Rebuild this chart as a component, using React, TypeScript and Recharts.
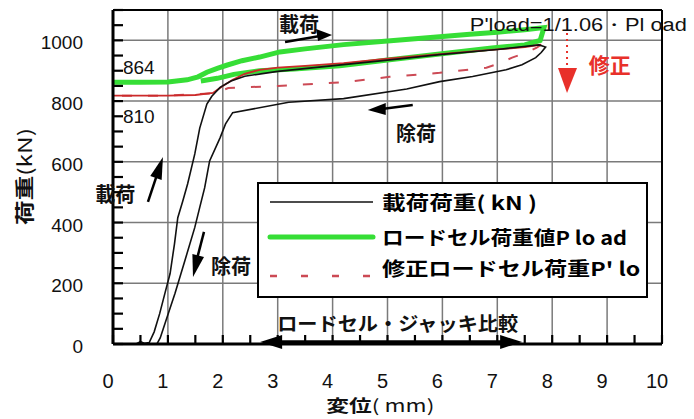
import React from 'react';
import { LineChart, Line, XAxis, YAxis, CartesianGrid, ReferenceDot, ReferenceLine, Legend } from 'recharts';

// ---- axis ticks ----
const xTicks = [0, 0.5, 1, 1.5, 2, 2.5, 3, 3.5, 4, 4.5, 5, 5.5, 6, 6.5, 7, 7.5, 8, 8.5, 9, 9.5, 10];
const yTicks = [0, 50, 100, 150, 200, 250, 300, 350, 400, 450, 500, 550, 600, 650, 700, 750, 800, 850, 900, 950, 1000, 1050, 1100];
const xLabels = [0, 1, 2, 3, 4, 5, 6, 7, 8, 9, 10];
const yLabels = [0, 200, 400, 600, 800, 1000];
const xGrid = [1, 2, 3, 4, 5, 6, 7, 8, 9];
const yGrid = [200, 400, 600, 800, 1000];

// ---- series: 載荷荷重 (kN) — loading then unloading loop ----
const jackDisp = [0.42, 0.5, 0.58, 0.66, 0.75, 0.85, 0.95, 1.04, 1.12, 1.18, 1.27, 1.36, 1.49, 1.58, 1.71, 1.8, 1.95, 2.15, 2.4, 3.0, 4.2, 5.0, 5.95, 7.0, 7.76, 7.88, 7.8, 7.7, 7.45, 7.16, 6.55, 5.95, 5.35, 4.2, 3.2, 2.18, 2.05, 1.95, 1.76, 1.67, 1.58, 1.49, 1.31, 1.13, 0.95, 0.86, 0.8];
const jackLoad = [0, 8, 2, 5, 40, 100, 170, 232, 330, 416, 470, 528, 626, 711, 790, 816, 845, 866, 882, 898, 920, 935, 953, 970, 985, 978, 960, 943, 920, 903, 881, 864, 840, 808, 796, 762, 725, 679, 603, 515, 450, 384, 275, 167, 69, 20, 0];

// ---- series: ロードセル荷重値 Pload ----
const cellDisp = [0, 0.5, 1.0, 1.35, 1.55, 1.71, 1.9, 2.07, 2.35, 2.67, 3.04, 3.5, 4.2, 5.0, 5.95, 6.5, 7.0, 7.5, 7.85, 7.78, 7.5, 6.9, 5.95, 5.0, 4.13, 3.3, 2.67, 2.2, 1.9, 1.6];
const cellLoad = [862, 862, 863, 870, 880, 895, 908, 918, 933, 945, 962, 972, 986, 998, 1012, 1020, 1027, 1035, 1042, 1000, 985, 975, 955, 935, 916, 906, 900, 888, 875, 866];

// ---- series: 修正ロードセル荷重 P'load (loading branch, solid) ----
const corrUpDisp = [0, 1.0, 1.5, 1.82, 2.0, 2.18, 2.4, 2.67, 3.0, 3.5, 4.2, 5.0, 5.95, 6.5, 7.0, 7.5, 7.8];
const corrUpLoad = [818, 818, 820, 827, 850, 870, 890, 903, 910, 916, 925, 940, 955, 963, 970, 978, 986];

// ---- series: 修正ロードセル荷重 P'load (unloading branch, dashed) ----
const corrDnDisp = [7.8, 7.71, 7.5, 7.27, 7.0, 6.8, 5.95, 5.04, 4.2, 3.0, 2.1, 1.85, 1.0, 0];
const corrDnLoad = [986, 975, 958, 943, 922, 910, 893, 880, 862, 850, 843, 826, 818, 818];

const legendLabels = ['載荷荷重( kN )', 'ロードセル荷重値P lo ad', "修正ロードセル荷重P' lo ad"];

const toPts = (xs: number[], ys: number[]) => xs.map((x, i) => ({ x, y: ys[i] }));
const jackData = toPts(jackDisp, jackLoad);
const cellData = toPts(cellDisp, cellLoad);
const corrUpData = toPts(corrUpDisp, corrUpLoad);
const corrDnData = toPts(corrDnDisp, corrDnLoad);

const NUM_FONT = '"Liberation Sans", Arial, Helvetica, sans-serif';
const JP_FONT = '"Noto Sans CJK JP", "Noto Sans", sans-serif';

const BLACK = '#111111';
const GREEN = '#36de36';
const RED = '#cc2a2a';
const RED_DASH = '#cc4a55';
const ANN_RED = '#e8302a';

const XTick = (props: any) => {
  const { x, y, payload } = props;
  const v = Number(payload.value);
  return (
    <g>
      <path d={`M${x},${y - 1}V${y - 9}`} stroke="#000" strokeWidth={2.2} fill="none" />
      {xLabels.includes(v) && (
        <text x={x - 5} y={y + 44} textAnchor="middle" fontSize={20} fontFamily={NUM_FONT} fill="#111">
          {v}
        </text>
      )}
    </g>
  );
};

const YTick = (props: any) => {
  const { x, y, payload } = props;
  const v = Number(payload.value);
  return (
    <g>
      <path d={`M${x + 1},${y}H${x + 10}`} stroke="#000" strokeWidth={2.2} fill="none" />
      {yLabels.includes(v) && (
        <text x={x - 30} y={y + 9} textAnchor="end" fontSize={19} fontFamily={NUM_FONT} fill="#111">
          {v}
        </text>
      )}
    </g>
  );
};

const LegendBox = () => (
  <svg width={391} height={116} style={{ display: 'block' }}>
    <rect x={1} y={1} width={389} height={114} fill="#fff" stroke="#000" strokeWidth={2} />
    <line x1={13} x2={116} y1={20} y2={20} stroke={BLACK} strokeWidth={1.5} />
    <text x={125} y={28} fontSize={19} fontWeight="bold" fontFamily={JP_FONT} textLength={155} lengthAdjust="spacingAndGlyphs">
      {legendLabels[0]}
    </text>
    <line x1={13} x2={116} y1={55} y2={55} stroke={GREEN} strokeWidth={5} strokeLinecap="round" />
    <text x={125} y={63} fontSize={19} fontWeight="bold" fontFamily={JP_FONT} textLength={245} lengthAdjust="spacingAndGlyphs">
      {legendLabels[1]}
    </text>
    <line x1={13} x2={116} y1={94} y2={94} stroke={RED_DASH} strokeWidth={2.5} strokeDasharray="7 24" />
    <text x={125} y={94} fontSize={19} fontWeight="bold" fontFamily={JP_FONT} textLength={292} lengthAdjust="spacingAndGlyphs">
      {legendLabels[2]}
    </text>
    <line x1={390} x2={390} y1={0} y2={116} stroke="#000" strokeWidth={2} />
  </svg>
);

const ann = (key: string, x: number, y: number, render: (cx: number, cy: number) => React.ReactElement) => (
  <ReferenceDot
    key={key}
    x={x}
    y={y}
    r={0}
    ifOverflow="visible"
    shape={(p: any) => render(p.cx, p.cy)}
  />
);

export default function App() {
  return (
    <div style={{ position: 'absolute', left: 0, top: 0, width: 694, height: 419, background: '#fff' }}>
      <LineChart width={694} height={419} margin={{ top: 10, right: 32, bottom: 0, left: 0 }}>
        <CartesianGrid
          horizontalValues={yGrid}
          verticalValues={xGrid}
          stroke="#7a7a7a"
          strokeWidth={1.5}
        />
        <ReferenceLine y={1100} stroke="#000" strokeWidth={2} ifOverflow="visible" />
        <ReferenceLine x={10} stroke="#000" strokeWidth={2} ifOverflow="visible" />
        <Line data={cellData} dataKey="y" name={legendLabels[1]} stroke={GREEN} strokeWidth={5} dot={false} isAnimationActive={false} />
        <Line data={corrDnData} dataKey="y" name={legendLabels[2]} stroke={RED_DASH} strokeWidth={2} strokeDasharray="10 16" dot={false} isAnimationActive={false} />
        <Line data={corrUpData} dataKey="y" name="corrUp" legendType="none" stroke={RED} strokeWidth={1.8} dot={false} isAnimationActive={false} />
        <Line data={jackData} dataKey="y" name={legendLabels[0]} stroke={BLACK} strokeWidth={1.6} dot={false} isAnimationActive={false} />
        <XAxis
          type="number"
          dataKey="x"
          domain={[0, 10]}
          ticks={xTicks}
          interval={0}
          allowDataOverflow
          height={75}
          tickSize={0}
          tickMargin={0}
          tickLine={false}
          axisLine={{ stroke: '#000', strokeWidth: 3 }}
          tick={<XTick />}
        />
        <YAxis
          type="number"
          dataKey="y"
          domain={[0, 1100]}
          ticks={yTicks}
          interval={0}
          allowDataOverflow
          width={113}
          tickSize={0}
          tickMargin={0}
          tickLine={false}
          axisLine={{ stroke: '#000', strokeWidth: 3 }}
          tick={<YTick />}
        />
        <Legend
          layout="vertical"
          align="center"
          verticalAlign="middle"
          content={() => <LegendBox />}
          wrapperStyle={{ left: 257, top: 182, width: 391, height: 116 }}
        />
        {/* axis titles */}
        {ann('ytitle', -1.64, 552, (cx, cy) => (
          <text x={cx} y={cy} transform={`rotate(-90 ${cx} ${cy})`} textAnchor="middle" dominantBaseline="central" fontSize={19} fontFamily={JP_FONT} fill="#111" textLength={97} lengthAdjust="spacingAndGlyphs">
            <tspan fontWeight="bold">荷重</tspan>
            <tspan>(kN)</tspan>
          </text>
        ))}
        {ann('xtitle', 4.87, -197, (cx, cy) => (
          <text x={cx} y={cy} textAnchor="middle" dominantBaseline="central" fontSize={17} fontFamily={JP_FONT} fill="#111" textLength={108} lengthAdjust="spacingAndGlyphs">
            <tspan fontWeight="bold">変位</tspan>
            <tspan>( mm)</tspan>
          </text>
        ))}
        {/* 載荷 (top) */}
        {ann('loadTop', 3.39, 1054, (cx, cy) => (
          <text x={cx} y={cy} textAnchor="middle" dominantBaseline="central" fontSize={20} fontWeight="bold" fontFamily={JP_FONT} fill="#111">載荷</text>
        ))}
        {ann('loadTopArrow', 3.99, 1018, (cx, cy) => (
          <g>
            <line x1={cx - 47} y1={cy + 7} x2={cx - 12} y2={cy + 1} stroke="#000" strokeWidth={2.5} />
            <polygon points={`${cx},${cy} ${cx - 16},${cy - 6} ${cx - 14},${cy + 6}`} fill="#000" />
          </g>
        ))}
        {/* formula */}
        {ann('formula', 6.5, 1050, (cx, cy) => (
          <text x={cx} y={cy} dominantBaseline="central" fontSize={18} fontFamily={NUM_FONT} fill="#111" textLength={217} lengthAdjust="spacingAndGlyphs">P'load=1/1.06・Pl oad</text>
        ))}
        {/* 修正 arrow */}
        {ann('corrArrow', 8.27, 827, (cx, cy) => (
          <g>
            <line x1={cx} y1={cy - 60} x2={cx} y2={cy - 25} stroke={ANN_RED} strokeWidth={2} strokeDasharray="2 4" />
            <polygon points={`${cx},${cy} ${cx - 9},${cy - 25} ${cx + 10},${cy - 25}`} fill={ANN_RED} />
          </g>
        ))}
        {ann('corrText', 9.05, 922, (cx, cy) => (
          <text x={cx} y={cy} textAnchor="middle" dominantBaseline="central" fontSize={21} fontWeight="bold" fontFamily={JP_FONT} fill={ANN_RED}>修正</text>
        ))}
        {/* 864 / 810 */}
        {ann('v864', 0.18, 909, (cx, cy) => (
          <text x={cx} y={cy} dominantBaseline="central" fontSize={19} fontFamily={NUM_FONT} fill="#111">864</text>
        ))}
        {ann('v810', 0.18, 748, (cx, cy) => (
          <text x={cx} y={cy} dominantBaseline="central" fontSize={19} fontFamily={NUM_FONT} fill="#111">810</text>
        ))}
        {/* 除荷 (right) */}
        {ann('unloadR', 5.52, 698, (cx, cy) => (
          <text x={cx} y={cy} textAnchor="middle" dominantBaseline="central" fontSize={20} fontWeight="bold" fontFamily={JP_FONT} fill="#111">除荷</text>
        ))}
        {ann('unloadRArrow', 4.64, 771, (cx, cy) => (
          <g>
            <line x1={cx + 45} y1={cy - 5} x2={cx + 14} y2={cy - 1} stroke="#000" strokeWidth={2.5} />
            <polygon points={`${cx},${cy} ${cx + 18},${cy - 7} ${cx + 18},${cy + 5}`} fill="#000" />
          </g>
        ))}
        {/* 載荷 (left) */}
        {ann('loadL', 0.04, 497, (cx, cy) => (
          <text x={cx} y={cy} textAnchor="middle" dominantBaseline="central" fontSize={20} fontWeight="bold" fontFamily={JP_FONT} fill="#111">載荷</text>
        ))}
        {ann('loadLArrow', 0.91, 616, (cx, cy) => (
          <g>
            <line x1={cx - 15} y1={cy + 45} x2={cx - 6} y2={cy + 18} stroke="#000" strokeWidth={2.5} />
            <polygon points={`${cx},${cy} ${cx - 1.3},${cy + 23} ${cx - 12.7},${cy + 19}`} fill="#000" />
          </g>
        ))}
        {/* 除荷 (lower) */}
        {ann('unloadL', 2.15, 260, (cx, cy) => (
          <text x={cx} y={cy} textAnchor="middle" dominantBaseline="central" fontSize={20} fontWeight="bold" fontFamily={JP_FONT} fill="#111">除荷</text>
        ))}
        {ann('unloadLArrow', 1.457, 221, (cx, cy) => (
          <g>
            <line x1={cx + 11} y1={cy - 45} x2={cx + 4} y2={cy - 18} stroke="#000" strokeWidth={2.5} />
            <polygon points={`${cx},${cy} ${cx + 11},${cy - 20} ${cx - 0.6},${cy - 22.8}`} fill="#000" />
          </g>
        ))}
        {/* ロードセル・ジャッキ比較 */}
        {ann('compare', 2.99, 72, (cx, cy) => (
          <text x={cx} y={cy} dominantBaseline="central" fontSize={19} fontWeight="bold" fontFamily={JP_FONT} fill="#111" textLength={241} lengthAdjust="spacingAndGlyphs">ロードセル・ジャッキ比較</text>
        ))}
        {ann('compareArrow', 2.68, 6.6, (cx, cy) => (
          <g>
            <line x1={cx + 18} y1={cy} x2={cx + 244} y2={cy} stroke="#000" strokeWidth={3.5} />
            <polygon points={`${cx},${cy} ${cx + 22},${cy - 7} ${cx + 22},${cy + 7}`} fill="#000" />
            <polygon points={`${cx + 262},${cy} ${cx + 240},${cy - 7} ${cx + 240},${cy + 7}`} fill="#000" />
          </g>
        ))}
      </LineChart>
    </div>
  );
}
